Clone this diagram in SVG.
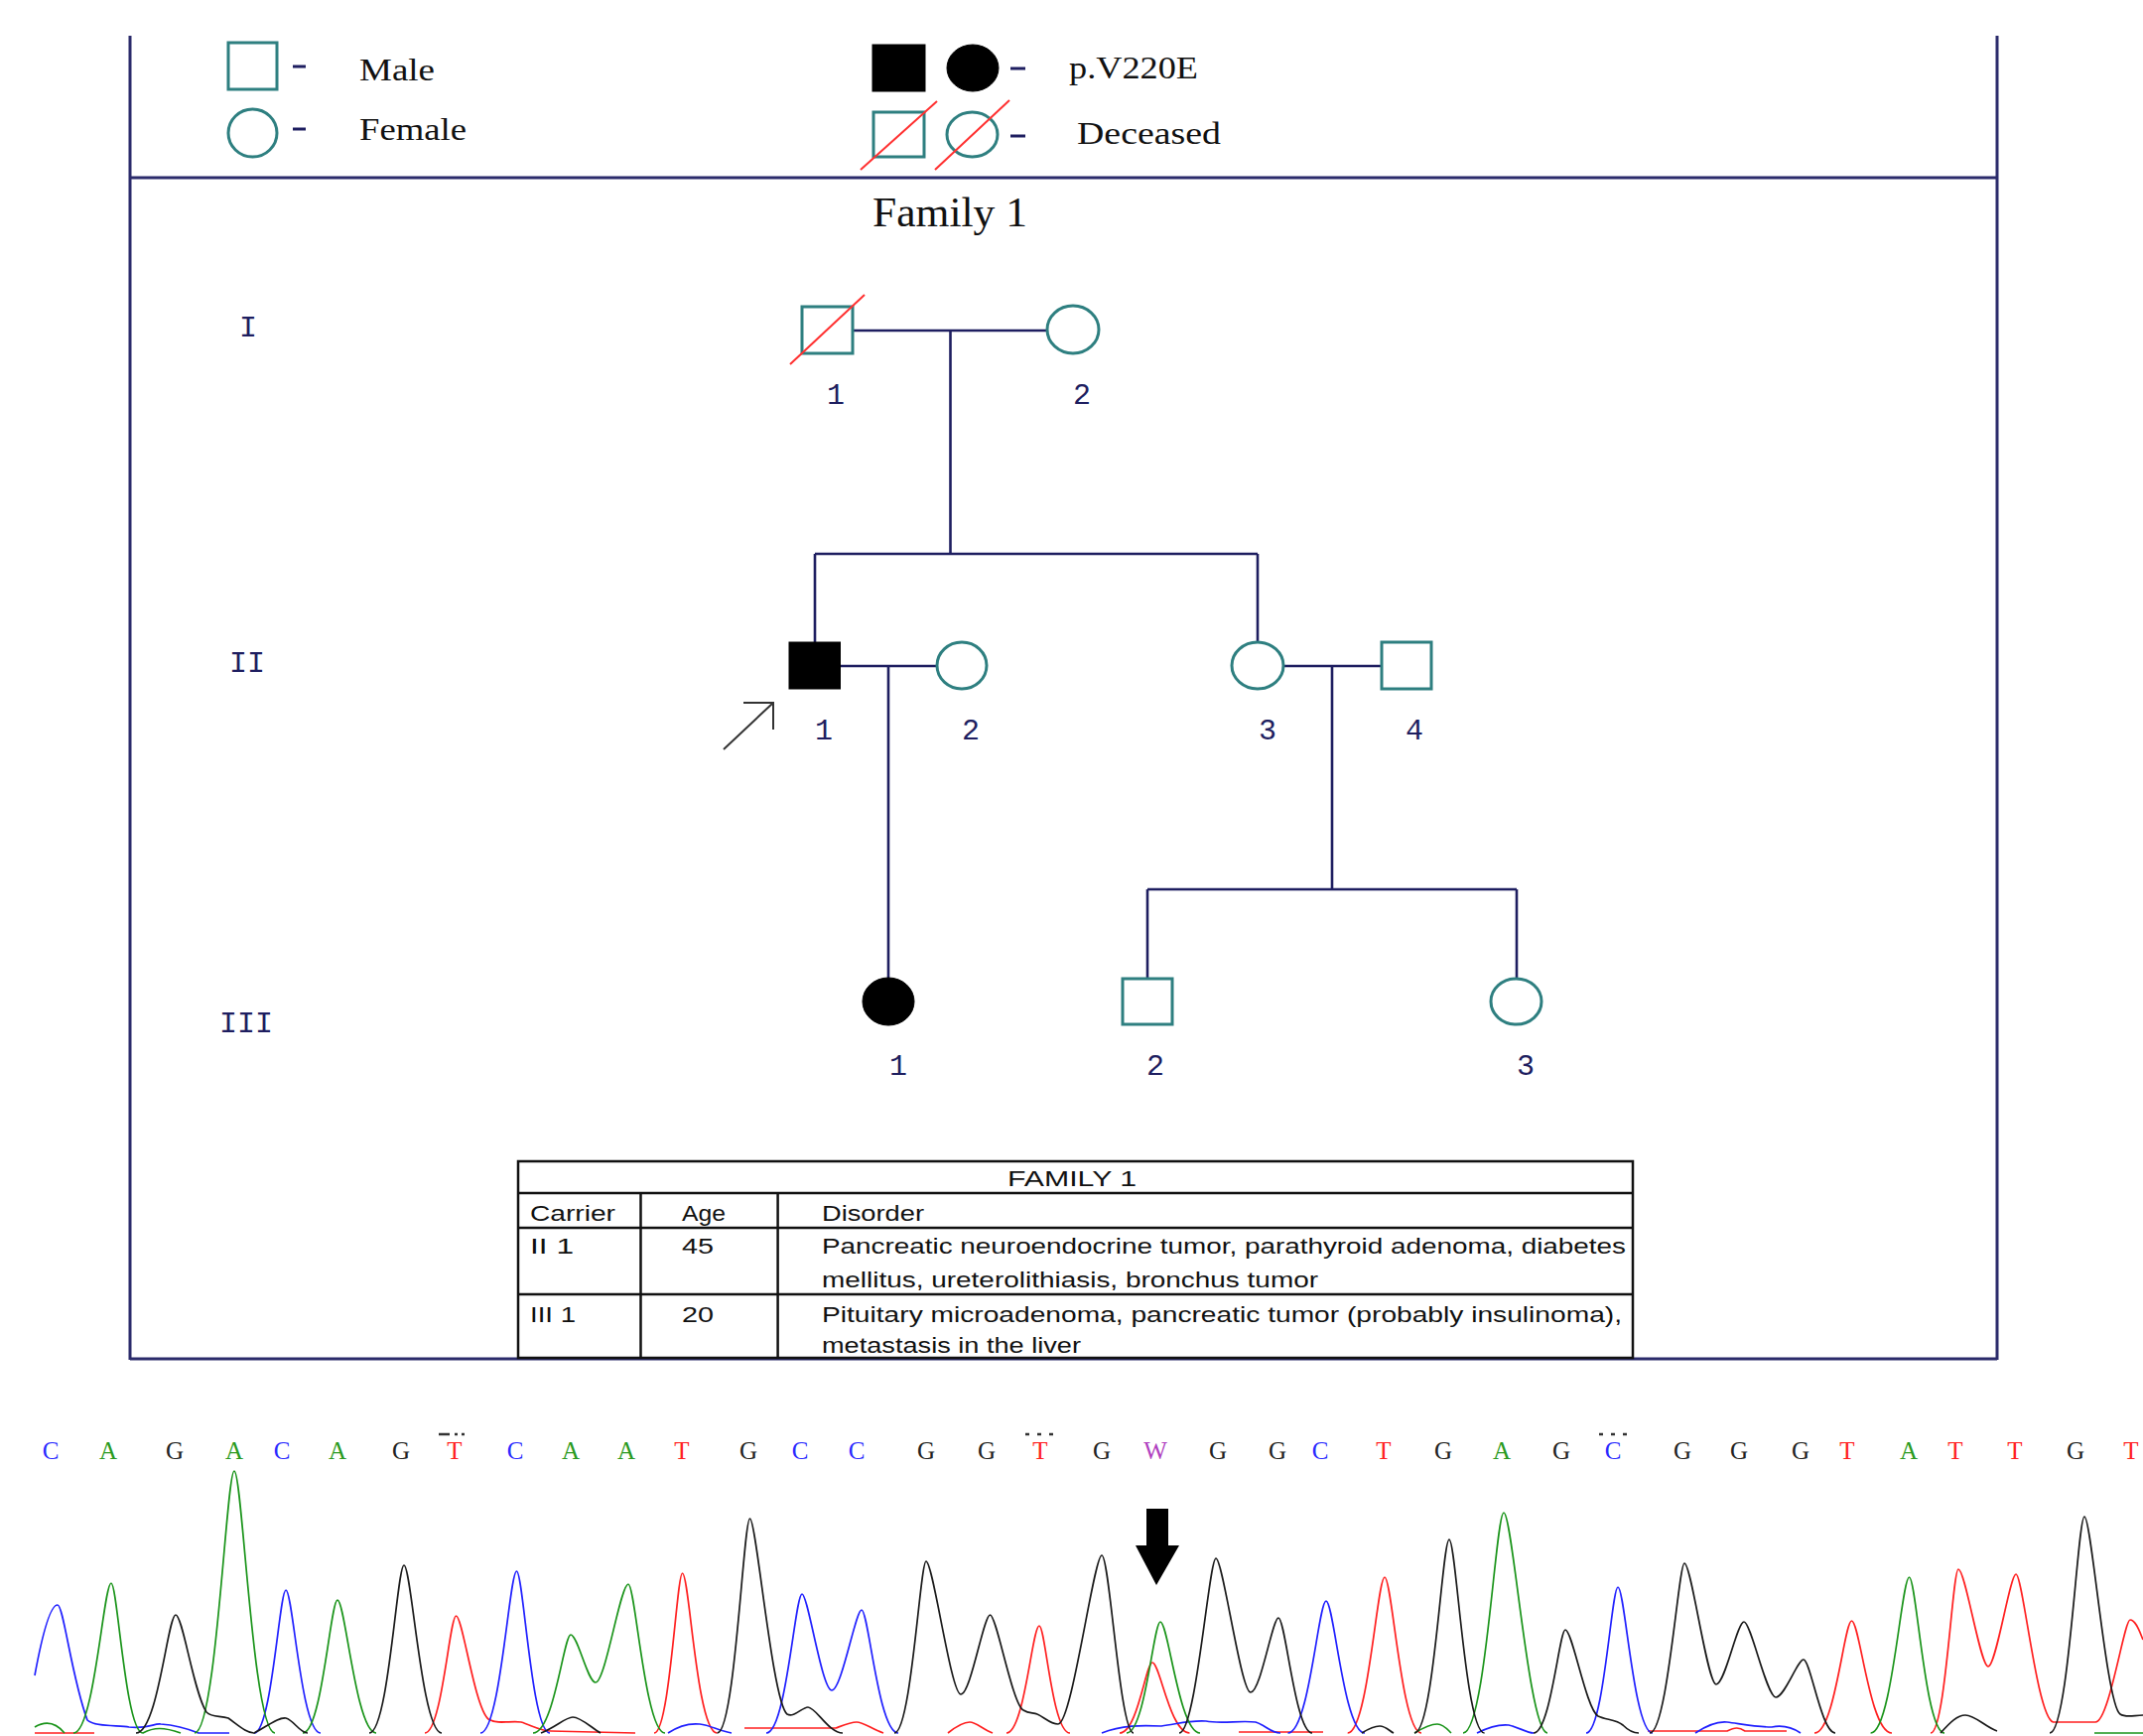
<svg xmlns="http://www.w3.org/2000/svg" width="2159" height="1749" viewBox="0 0 2159 1749">
<style>
.frame{stroke:#2b2b6b;stroke-width:3;fill:none}
.ln{stroke:#1e1e60;stroke-width:2.6;fill:none}
.sym{fill:#fff;stroke:#2e7f80;stroke-width:3}
.aff{fill:#000;stroke:#000;stroke-width:1}
.dec{stroke:#ff3030;stroke-width:2}
.dash{stroke:#1e1e60;stroke-width:3}
.leg{font-family:"Liberation Serif",serif;font-size:32px;fill:#111}
.num{font-family:"Liberation Mono",monospace;font-size:30px;fill:#1e1e60;text-anchor:middle}
.tbl{stroke:#111;stroke-width:2.5;fill:none}
.tt{font-family:"Liberation Sans",sans-serif;font-size:22px;fill:#111}
.b{font-family:"Liberation Serif",serif;font-size:25px;text-anchor:middle}
.bC{fill:#2a2aff}.bA{fill:#2a9a20}.bG{fill:#222}.bT{fill:#ff2020}.bW{fill:#b040c0}
.tr{fill:none;stroke-width:1.7}
.tB{stroke:#2020ff}.tG{stroke:#1a941a}.tK{stroke:#1a1a1a}.tR{stroke:#ff2020}
</style>
<rect width="2159" height="1749" fill="#fff"/>
<g id="frame">
<line class="frame" x1="131" y1="36" x2="131" y2="1370"/>
<line class="frame" x1="2012" y1="36" x2="2012" y2="1370"/>
<line class="frame" x1="131" y1="179" x2="2012" y2="179"/>
<line class="frame" x1="131" y1="1369" x2="2012" y2="1369"/>
</g>
<g id="legend">
<rect class="sym" x="230" y="43" width="49" height="47"/>
<line class="dash" x1="295" y1="67" x2="308" y2="67"/>
<text class="leg" x="362" y="81" textLength="76" lengthAdjust="spacingAndGlyphs">Male</text>
<ellipse class="sym" cx="254.5" cy="134" rx="24.5" ry="24"/>
<line class="dash" x1="295" y1="130" x2="308" y2="130"/>
<text class="leg" x="362" y="141" textLength="108" lengthAdjust="spacingAndGlyphs">Female</text>
<rect class="aff" x="879" y="45" width="53" height="47"/>
<ellipse class="aff" cx="980" cy="68.5" rx="26" ry="23.5"/>
<line class="dash" x1="1018" y1="69" x2="1033" y2="69"/>
<text class="leg" x="1077" y="79" textLength="130" lengthAdjust="spacingAndGlyphs">p.V220E</text>
<rect class="sym" x="880" y="113" width="51" height="45"/>
<line class="dec" x1="867" y1="171" x2="944" y2="102"/>
<ellipse class="sym" cx="979.5" cy="135.5" rx="25.5" ry="22.5"/>
<line class="dec" x1="942" y1="171" x2="1017" y2="101"/>
<line class="dash" x1="1018" y1="137" x2="1033" y2="137"/>
<text class="leg" x="1085" y="145" textLength="145" lengthAdjust="spacingAndGlyphs">Deceased</text>
</g>
<text id="title" x="957" y="228" font-family="Liberation Serif, serif" font-size="42" fill="#111" text-anchor="middle" textLength="156" lengthAdjust="spacingAndGlyphs">Family 1</text>
<g id="generations">
<text class="num" x="250" y="339">I</text>
<text class="num" x="249" y="677">II</text>
<text class="num" x="248" y="1040">III</text>
</g>
<g id="connectors">
<line class="ln" x1="859" y1="333" x2="1055" y2="333"/>
<line class="ln" x1="957.5" y1="333" x2="957.5" y2="558"/>
<line class="ln" x1="821" y1="558" x2="1267" y2="558"/>
<line class="ln" x1="821" y1="558" x2="821" y2="647"/>
<line class="ln" x1="1267" y1="558" x2="1267" y2="647"/>
<line class="ln" x1="846.5" y1="671" x2="944" y2="671"/>
<line class="ln" x1="895" y1="671" x2="895" y2="985"/>
<line class="ln" x1="1293" y1="671" x2="1392" y2="671"/>
<line class="ln" x1="1342" y1="671" x2="1342" y2="896"/>
<line class="ln" x1="1156" y1="896" x2="1528" y2="896"/>
<line class="ln" x1="1156" y1="896" x2="1156" y2="986"/>
<line class="ln" x1="1528" y1="896" x2="1528" y2="986"/>
</g>
<g id="node-I-1">
<rect class="sym" x="808" y="309" width="51" height="47"/>
<line class="dec" x1="796" y1="367" x2="871" y2="297"/>
<text class="num" x="842" y="407">1</text>
</g>
<g id="node-I-2">
<ellipse class="sym" cx="1081" cy="332" rx="26" ry="24"/>
<text class="num" x="1090" y="407">2</text>
</g>
<g id="node-II-1">
<rect class="aff" x="795" y="647" width="51.5" height="47"/>
<text class="num" x="830" y="745">1</text>
<path d="M729,755 L779,708 M749,708 L779,708 L779,735" stroke="#333" stroke-width="2" fill="none"/>
</g>
<g id="node-II-2">
<ellipse class="sym" cx="969" cy="670.5" rx="25" ry="23.5"/>
<text class="num" x="978" y="745">2</text>
</g>
<g id="node-II-3">
<ellipse class="sym" cx="1267" cy="670.5" rx="26" ry="23.5"/>
<text class="num" x="1277" y="745">3</text>
</g>
<g id="node-II-4">
<rect class="sym" x="1392" y="647" width="50" height="47"/>
<text class="num" x="1425" y="745">4</text>
</g>
<g id="node-III-1">
<ellipse class="aff" cx="895" cy="1009" rx="26" ry="24"/>
<text class="num" x="905" y="1083">1</text>
</g>
<g id="node-III-2">
<rect class="sym" x="1131" y="986" width="50" height="46"/>
<text class="num" x="1164" y="1083">2</text>
</g>
<g id="node-III-3">
<ellipse class="sym" cx="1527.5" cy="1009" rx="25.5" ry="23"/>
<text class="num" x="1537" y="1083">3</text>
</g>
<g id="table">
<rect class="tbl" x="522" y="1170" width="1123" height="198"/>
<line class="tbl" x1="522" y1="1202" x2="1645" y2="1202"/>
<line class="tbl" x1="522" y1="1237" x2="1645" y2="1237"/>
<line class="tbl" x1="522" y1="1304" x2="1645" y2="1304"/>
<line class="tbl" x1="645.5" y1="1202" x2="645.5" y2="1368"/>
<line class="tbl" x1="783.6" y1="1202" x2="783.6" y2="1368"/>
<text class="tt" x="1080" y="1195" text-anchor="middle" textLength="130" lengthAdjust="spacingAndGlyphs">FAMILY 1</text>
<text class="tt" x="534" y="1230" textLength="86" lengthAdjust="spacingAndGlyphs">Carrier</text>
<text class="tt" x="687" y="1230" textLength="44" lengthAdjust="spacingAndGlyphs">Age</text>
<text class="tt" x="828" y="1230" textLength="103" lengthAdjust="spacingAndGlyphs">Disorder</text>
<text class="tt" x="534" y="1263" textLength="44" lengthAdjust="spacingAndGlyphs">II 1</text>
<text class="tt" x="687" y="1263" textLength="32" lengthAdjust="spacingAndGlyphs">45</text>
<text class="tt" x="828" y="1263" textLength="810" lengthAdjust="spacingAndGlyphs">Pancreatic neuroendocrine tumor, parathyroid adenoma, diabetes</text>
<text class="tt" x="828" y="1297" textLength="500" lengthAdjust="spacingAndGlyphs">mellitus, ureterolithiasis, bronchus tumor</text>
<text class="tt" x="534" y="1332" textLength="46" lengthAdjust="spacingAndGlyphs">III 1</text>
<text class="tt" x="687" y="1332" textLength="32" lengthAdjust="spacingAndGlyphs">20</text>
<text class="tt" x="828" y="1332" textLength="806" lengthAdjust="spacingAndGlyphs">Pituitary microadenoma, pancreatic tumor (probably insulinoma),</text>
<text class="tt" x="828" y="1363" textLength="261" lengthAdjust="spacingAndGlyphs">metastasis in the liver</text>
</g>
<g id="bases">
<text class="b bC" x="51" y="1470">C</text>
<text class="b bA" x="109" y="1470">A</text>
<text class="b bG" x="176" y="1470">G</text>
<text class="b bA" x="236" y="1470">A</text>
<text class="b bC" x="284" y="1470">C</text>
<text class="b bA" x="340" y="1470">A</text>
<text class="b bG" x="404" y="1470">G</text>
<text class="b bT" x="458" y="1470">T</text>
<text class="b bC" x="519" y="1470">C</text>
<text class="b bA" x="575" y="1470">A</text>
<text class="b bA" x="631" y="1470">A</text>
<text class="b bT" x="687" y="1470">T</text>
<text class="b bG" x="754" y="1470">G</text>
<text class="b bC" x="806" y="1470">C</text>
<text class="b bC" x="863" y="1470">C</text>
<text class="b bG" x="933" y="1470">G</text>
<text class="b bG" x="994" y="1470">G</text>
<text class="b bT" x="1048" y="1470">T</text>
<text class="b bG" x="1110" y="1470">G</text>
<text class="b bW" x="1164" y="1470">W</text>
<text class="b bG" x="1227" y="1470">G</text>
<text class="b bG" x="1287" y="1470">G</text>
<text class="b bC" x="1330" y="1470">C</text>
<text class="b bT" x="1394" y="1470">T</text>
<text class="b bG" x="1454" y="1470">G</text>
<text class="b bA" x="1513" y="1470">A</text>
<text class="b bG" x="1573" y="1470">G</text>
<text class="b bC" x="1625" y="1470">C</text>
<text class="b bG" x="1695" y="1470">G</text>
<text class="b bG" x="1752" y="1470">G</text>
<text class="b bG" x="1814" y="1470">G</text>
<text class="b bT" x="1861" y="1470">T</text>
<text class="b bA" x="1923" y="1470">A</text>
<text class="b bT" x="1970" y="1470">T</text>
<text class="b bT" x="2030" y="1470">T</text>
<text class="b bG" x="2091" y="1470">G</text>
<text class="b bT" x="2147" y="1470">T</text>
<path d="M442,1445 h11 M458,1445 h3 M465,1445 h3 M1033,1445 h4 M1045,1445 h4 M1057,1445 h4 M1611,1445 h4 M1623,1445 h4 M1635,1445 h4" stroke="#333" stroke-width="2.5" fill="none"/>
</g>
<g id="traces">
<path class="tr tR" d="M35,1746 L95,1746 M428,1746 C445,1746 453,1628 459.5,1628 C466,1628 478,1720 492,1732 C502,1738 515,1733 525,1735 C535,1738 545,1744 555,1744 L640,1746 M659,1746 C674.7,1746 681.8,1585 687.5,1585 C694.5,1585 702,1746 722.5,1746 M750,1741 L842,1741 C850,1738 857,1735 863,1735 C870,1735 878,1742 890,1746 M955,1746 C965,1738 972,1735 977,1735 C983,1735 990,1742 1000,1746 M1014,1746 C1032,1746 1040,1638 1047,1638 C1053.2,1638 1060,1746 1078,1746 M1128,1746 C1146,1746 1154.4,1675 1161,1675 C1168.5,1675 1178.9,1746 1198.5,1746 M1248,1745 L1333,1745 M1357.7,1746 C1378.2,1746 1387.5,1589 1395,1589 C1402.4,1589 1412,1746 1432,1746 M1660,1744 L1740,1744 C1748,1740 1752,1740 1758,1744 L1800,1744 M1828,1746 C1848.6,1746 1858,1633 1865.5,1633 C1873.6,1633 1883.7,1746 1906,1746 M1945,1746 C1960,1746 1967,1581 1973,1581 C1980,1581 1995,1679 2003,1679 C2011,1679 2025,1586 2031,1586 C2038,1586 2052,1730 2068.5,1735 L2111,1735 C2125,1735 2140,1632 2146,1632 C2152,1632 2156,1645 2159,1652"/>
<path class="tr tB" d="M35,1688 C42,1650 50,1617 58,1617 C64,1617 72,1690 88,1733 C95,1740 120,1738 130,1740 C150,1742 155,1736 162,1737 C175,1738 190,1742 200,1746 L231,1746 M256,1746 C273.6,1746 281.6,1602 288,1602 C295,1602 303.5,1746 323,1746 M484,1746 C504,1746 513.2,1583 520.5,1583 C527.2,1583 535.6,1746 554,1746 M673,1746 C685,1738 695,1736 705,1737 C715,1738 725,1744 737,1746 M772,1746 C792,1746 801,1606 808,1606 C814,1606 828,1703 838,1703 C848,1703 862,1622 868,1622 C875,1622 885,1746 905,1746 M1110,1746 C1130,1738 1150,1738 1170,1739 C1190,1736 1200,1733 1215,1734 C1230,1737 1250,1733 1265,1735 C1275,1738 1280,1746 1290,1746 M1297.5,1746 C1318.7,1746 1328.3,1613 1336,1613 C1343.8,1613 1354,1746 1375,1746 M1488,1746 C1500,1740 1510,1737 1520,1738 C1530,1740 1538,1746 1545,1746 M1598,1746 C1615.6,1746 1623.6,1599 1630,1599 C1637,1599 1646,1746 1665,1746 M1708,1746 C1720,1738 1730,1734 1740,1735 C1755,1737 1770,1740 1785,1740 C1795,1738 1805,1740 1814,1746"/>
<path class="tr tG" d="M35,1740 C45,1734 55,1734 65,1746 M74,1746 C94.9,1746 104.4,1595 112,1595 C118.4,1595 126.4,1746 144,1746 C155,1740 165,1740 182,1746 M196,1746 C218,1746 228,1482 236,1482 C244.2,1482 254.7,1746 277,1746 M305,1746 C324.3,1746 333,1612 340,1612 C347.8,1612 358.7,1746 379,1746 M537,1746 C558,1746 568,1647 575,1647 C582,1647 592,1695 600,1695 C610,1695 625,1596 633,1596 C640,1596 650,1746 670,1746 M1135,1746 C1153.7,1746 1162.2,1634 1169,1634 C1177,1634 1188,1746 1209,1746 M1425,1746 C1435,1740 1442,1737 1448,1737 C1454,1737 1458,1742 1462,1746 M1474,1746 C1496.6,1746 1506.8,1524 1515,1524 C1523.8,1524 1540.3,1746 1559,1746 M1884.6,1746 C1906,1746 1915.7,1589 1923.5,1589 C1930.6,1589 1939.5,1746 1959,1746 M2110,1746 L2159,1746"/>
<path class="tr tK" d="M137,1746 C159,1746 169,1627 177,1627 C184,1627 195,1705 208,1725 C214,1731 222,1728 230,1731 C240,1738 248,1746 256,1746 C268,1740 280,1730 288,1731 C296,1733 302,1746 310,1746 M372,1746 C391.3,1746 400,1577 407,1577 C414.6,1577 424.9,1746 445,1746 M545,1746 C560,1740 570,1730 577,1730 C585,1730 595,1740 605,1746 M722.5,1746 C740.6,1746 749,1530 755.5,1530 C762,1530 778,1715 793,1727 C800,1731 808,1720 814,1720 C822,1720 835,1746 849,1746 M901,1746 C918,1746 927,1573 933,1573 C940,1573 958,1707 968,1707 C978,1707 991,1627 997.5,1627 C1004,1627 1020,1718 1031,1723 C1037,1727 1041,1725 1045,1727 C1052,1730 1058,1737 1066,1737 C1080,1737 1102,1567 1110,1567 C1118,1567 1128,1746 1142,1746 M1188,1746 C1205,1746 1218,1570 1225,1570 C1232,1570 1250,1705 1260,1705 C1270,1705 1282,1630 1288,1630 C1295,1630 1305,1746 1322,1746 M1372,1746 C1380,1741 1386,1739 1390,1739 C1396,1739 1400,1744 1404,1746 M1425,1746 C1444.3,1746 1453,1551 1460,1551 C1467,1551 1476.2,1746 1495.6,1746 M1545,1746 C1562,1746 1571,1642 1577,1642 C1584,1642 1598,1722 1610,1729 C1618,1733 1628,1732 1635,1738 C1640,1743 1645,1746 1651,1746 M1662,1746 C1680,1746 1691,1575 1697,1575 C1704,1575 1720,1697 1729,1697 C1738,1697 1750,1634 1757,1634 C1764,1634 1780,1710 1789,1710 C1798,1710 1811,1672 1817,1672 C1824,1672 1835,1746 1849,1746 M1955,1746 C1965,1735 1972,1728 1980,1728 C1990,1728 2000,1740 2012,1744 M2065,1746 C2084,1746 2093,1528 2100,1528 C2107,1528 2122,1718 2136,1727 C2142,1731 2150,1728 2159,1728"/>
<polygon points="1155,1520 1177,1520 1177,1557 1188,1557 1165,1597 1144,1557 1155,1557" fill="#000"/>
</g>
</svg>
